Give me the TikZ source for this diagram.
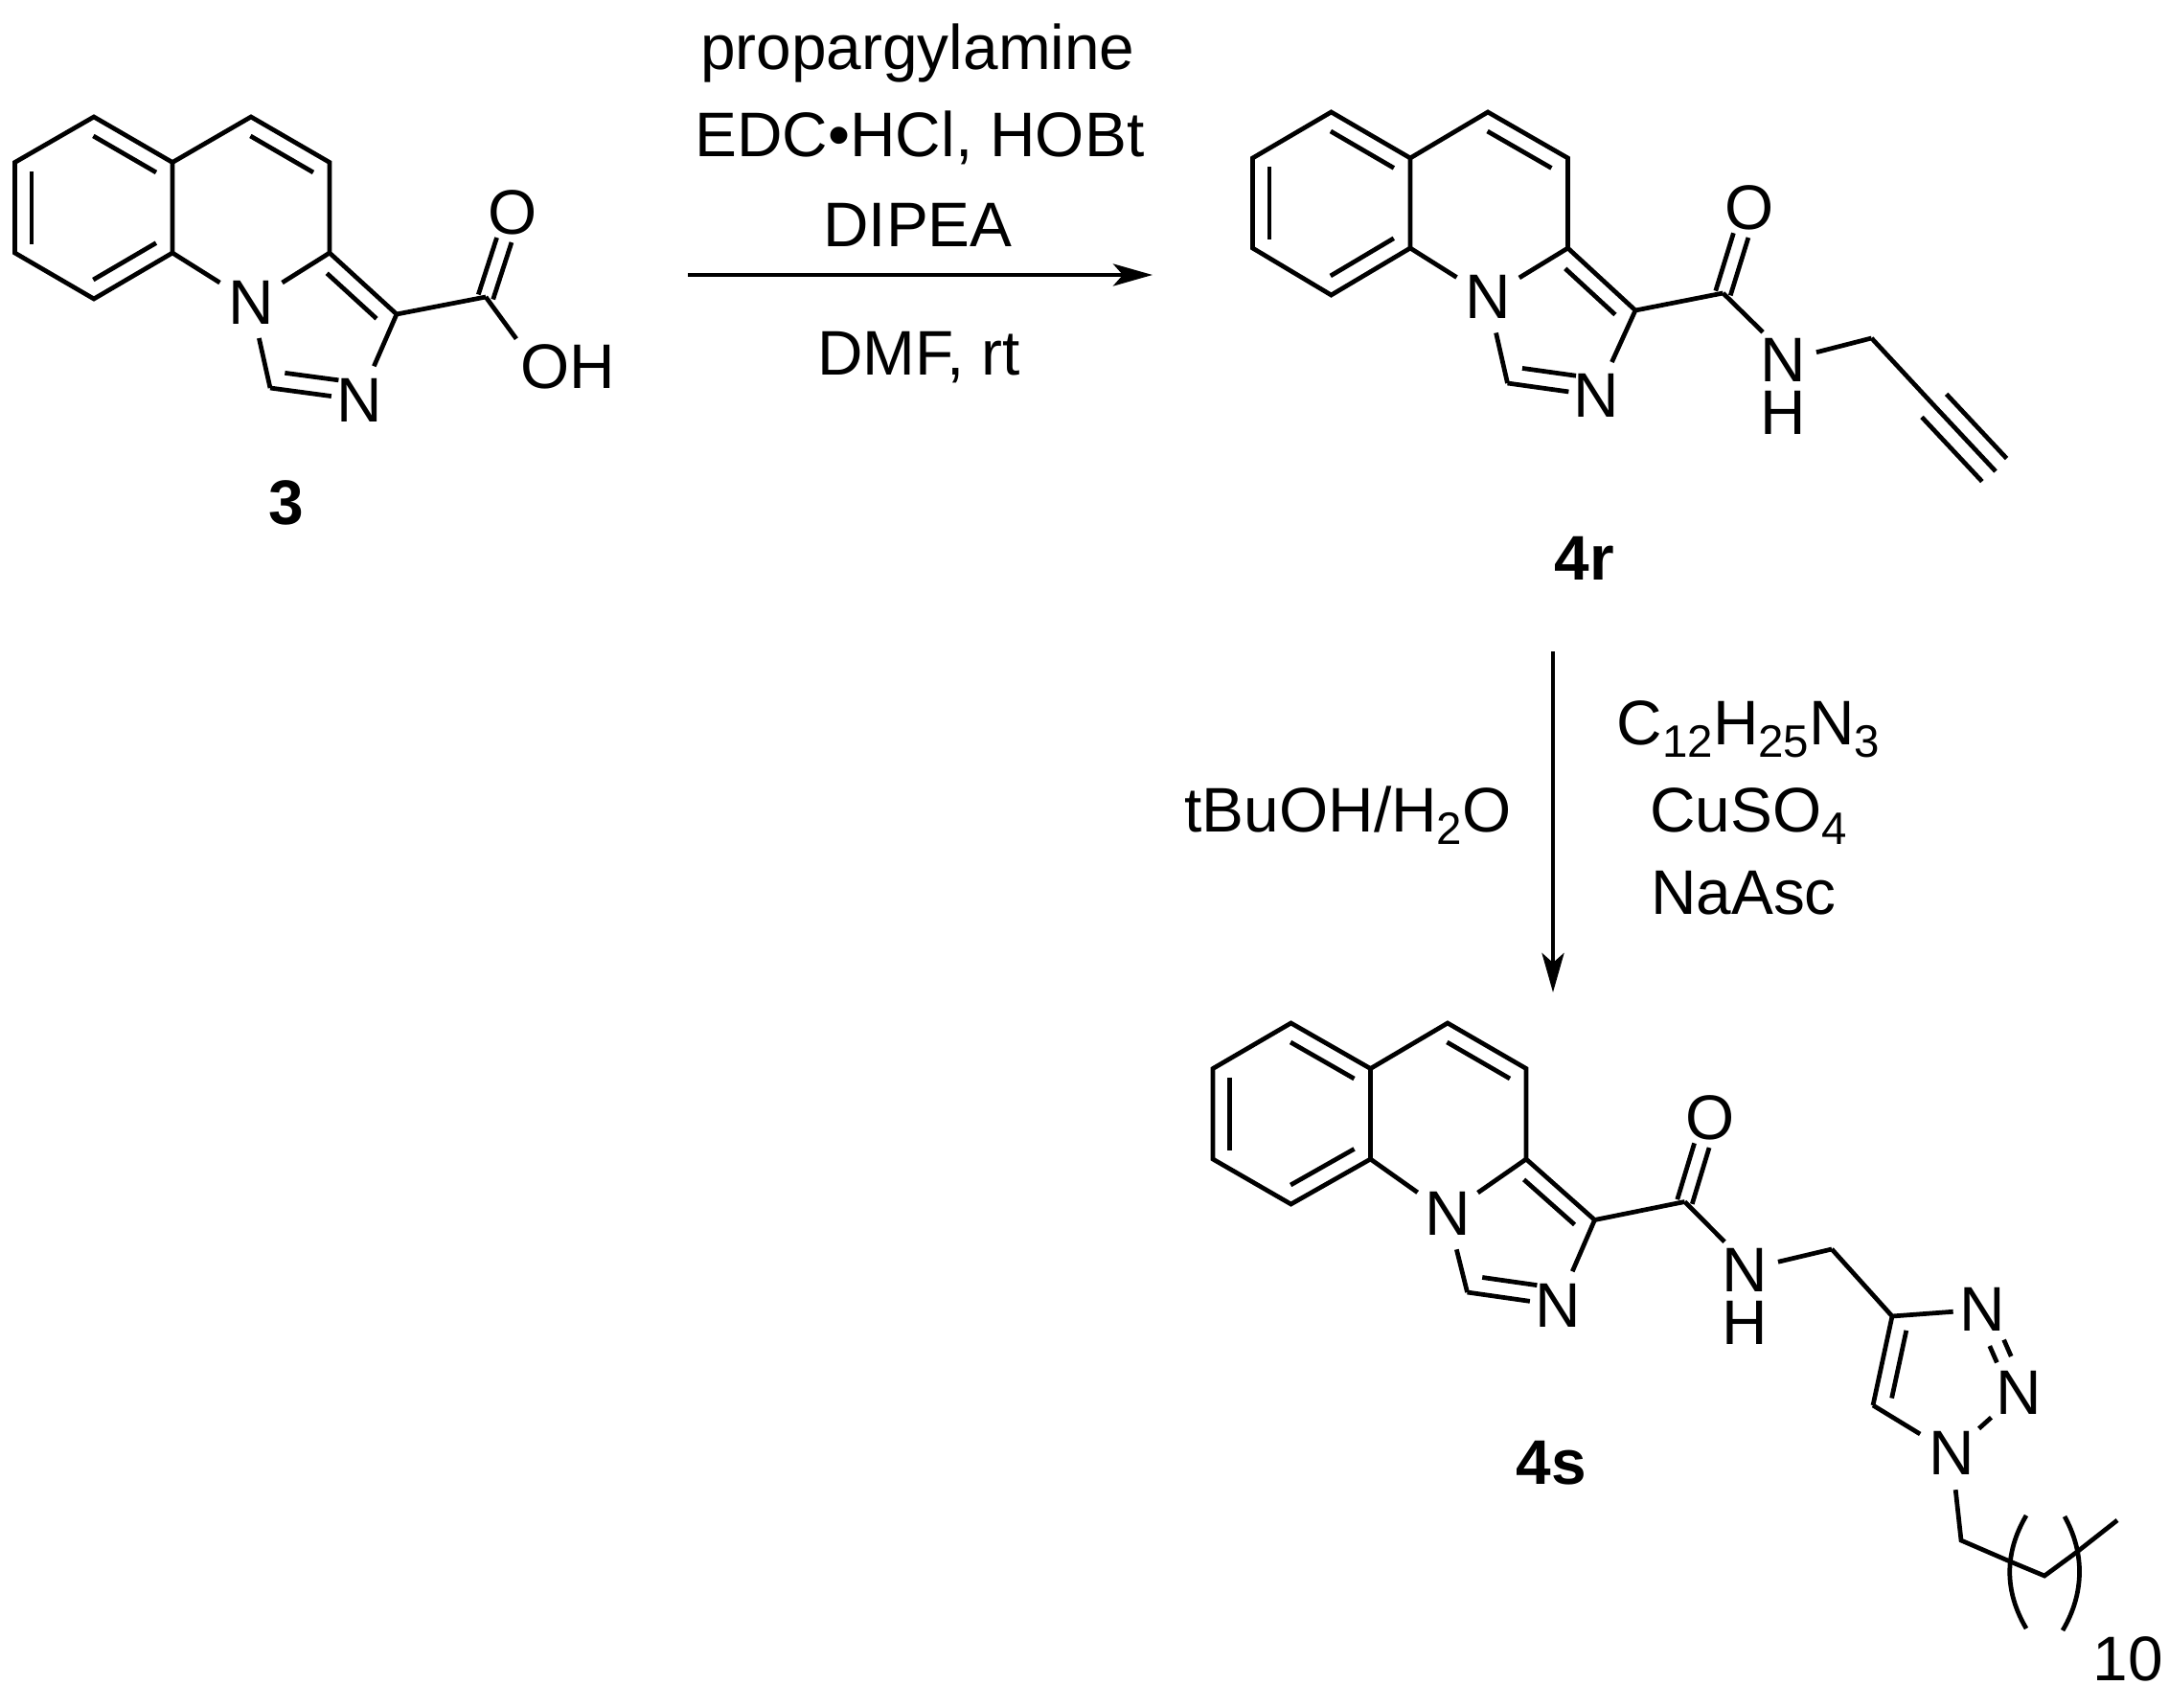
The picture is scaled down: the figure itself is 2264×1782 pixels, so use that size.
\documentclass[tikz,border=0pt]{standalone}
\usepackage{fontspec}
\usepackage{tikz}
\usetikzlibrary{calc,arrows.meta}
\setmainfont{Liberation Sans}
\newcommand{\chemsub}[1]{\raisebox{-.13cm}{\fontsize{13.5}{14}\selectfont #1}}

\begin{document}
\begin{tikzpicture}[x=0.01cm,y=-0.01cm]
  \tikzset{every node/.style={font=\fontsize{18.7}{20}\selectfont,inner sep=0pt}}
  \tikzset{atom/.style={circle,inner sep=1pt}}
  \tikzset{stack/.style={align=center,font=\fontsize{18.7}{15.6}\selectfont}}
  \tikzset{txt/.style={anchor=base}}
  \tikzset{cpd/.style={anchor=base,font=\fontsize{18.7}{20}\selectfont\bfseries}}
  \tikzset{bond/.style={line width=1.35pt,line join=miter}}
  \tikzset{inner/.style 2 args={bond,to path={($(\tikztostart)!#2!(\tikztotarget)!#1!90:(\tikztotarget)$) -- ($(\tikztotarget)!#2!(\tikztostart)!#1!-90:(\tikztostart)$)}}}
  \tikzset{transition/.style={-{Stealth[length=.41cm,width=.23cm,inset=.1cm]},line width=1.35pt}}
  \useasboundingbox (0,0) rectangle (2264,1782);
  % acid 3
  \coordinate (acidA) at (98,122);
  \coordinate (acidB) at (180,169.5);
  \coordinate (acidC) at (180,264);
  \coordinate (acidD) at (98,312);
  \coordinate (acidE) at (15.5,264);
  \coordinate (acidF) at (15.5,169.5);
  \coordinate (acidG) at (262,122);
  \coordinate (acidH) at (344,169.5);
  \coordinate (acidI) at (344,264);
  \coordinate (acidJ) at (282,405);
  \coordinate (acidK) at (414,328);
  \coordinate (acidCO) at (507,310);
  \node[atom] (acidNa) at (262,315.5) {N};
  \node[atom] (acidNb) at (375,417.5) {N};
  \node[atom] (acidO) at (535.5,222) {O};
  \node (acidOH) at (592.5,382.5) {OH};
  \node[cpd] (acidLabel) at (299,547) {3};
  \draw[bond] (acidA)--(acidB)--(acidC)--(acidD)--(acidE)--(acidF)--cycle;
  \draw[bond] (acidB)--(acidG)--(acidH)--(acidI)--(acidK)--(acidCO);
  \draw[bond] (acidC)--(acidNa);
  \draw[bond] (acidI)--(acidNa);
  \draw[bond] (acidNa)--(acidJ);
  \draw[bond,shorten >=-.09cm] (acidJ)--(acidNb);
  \draw[bond] (acidK)--(acidNb);
  \draw[bond,shorten >=.06cm] (acidCO)--(acidOH.north west);
  \draw[inner={5pt}{.1}] (acidF) to (acidE);
  \draw[inner={5pt}{.1}] (acidD) to (acidC);
  \draw[inner={5pt}{.1}] (acidB) to (acidA);
  \draw[inner={5pt}{.1}] (acidH) to (acidG);
  \draw[inner={5pt}{.13}] (acidK) to (acidI);
  \draw[inner={5pt}{.14},shorten >=.11cm] (acidJ) to (acidNb);
  \draw[inner={2.3pt}{0},shorten >=.3cm] (acidCO) to (acidO);
  \draw[inner={-2.3pt}{0},shorten >=.3cm] (acidCO) to (acidO);
  % first step
  \node[txt] (reagentA) at (958,73) {propargylamine};
  \node[txt] (reagentB) at (960,164) {EDC•HCl, HOBt};
  \node[txt] (reagentC) at (958,257) {DIPEA};
  \node[txt] (reagentD) at (959,391) {DMF, rt};
  \coordinate (stepOneFrom) at (718,287);
  \coordinate (stepOneTo) at (1203,287);
  \draw[transition] (stepOneFrom)--(stepOneTo);
  % alkyne 4r
  \coordinate (alkyneA) at (1389.5,117);
  \coordinate (alkyneB) at (1472,165);
  \coordinate (alkyneC) at (1472,259);
  \coordinate (alkyneD) at (1389.5,308);
  \coordinate (alkyneE) at (1307.5,259);
  \coordinate (alkyneF) at (1307.5,165);
  \coordinate (alkyneG) at (1553,117);
  \coordinate (alkyneH) at (1636.5,165);
  \coordinate (alkyneI) at (1636.5,259);
  \coordinate (alkyneJ) at (1573.5,400);
  \coordinate (alkyneK) at (1707,324);
  \coordinate (alkyneCO) at (1798.5,306);
  \coordinate (alkyneCH) at (1953.5,353);
  \coordinate (alkyneS) at (2017.5,422);
  \coordinate (alkyneT) at (2083,492);
  \node[atom] (alkyneNa) at (1553,310) {N};
  \node[atom] (alkyneNb) at (1666.5,413) {N};
  \node[atom] (alkyneO) at (1826,217) {O};
  \node[stack] (alkyneNH) at (1861.5,403.5) {N\\H};
  \node[cpd] (alkyneLabel) at (1654,605) {4r};
  \draw[bond] (alkyneA)--(alkyneB)--(alkyneC)--(alkyneD)--(alkyneE)--(alkyneF)--cycle;
  \draw[bond] (alkyneB)--(alkyneG)--(alkyneH)--(alkyneI)--(alkyneK)--(alkyneCO);
  \draw[bond] (alkyneC)--(alkyneNa);
  \draw[bond] (alkyneI)--(alkyneNa);
  \draw[bond] (alkyneNa)--(alkyneJ);
  \draw[bond,shorten >=-.09cm] (alkyneJ)--(alkyneNb);
  \draw[bond] (alkyneK)--(alkyneNb);
  \draw[bond] (alkyneCO)--([shift={(3,-6)}]alkyneNH.north west);
  \draw[bond] ([shift={(10,15)}]alkyneNH.north east)--(alkyneCH);
  \draw[bond] (alkyneCH)--(alkyneS)--(alkyneT);
  \draw[inner={5pt}{.1}] (alkyneF) to (alkyneE);
  \draw[inner={5pt}{.1}] (alkyneD) to (alkyneC);
  \draw[inner={5pt}{.1}] (alkyneB) to (alkyneA);
  \draw[inner={5pt}{.1}] (alkyneH) to (alkyneG);
  \draw[inner={5pt}{.13}] (alkyneK) to (alkyneI);
  \draw[inner={5pt}{.14},shorten >=.11cm] (alkyneJ) to (alkyneNb);
  \draw[inner={2.3pt}{0},shorten >=.3cm] (alkyneCO) to (alkyneO);
  \draw[inner={-2.3pt}{0},shorten >=.3cm] (alkyneCO) to (alkyneO);
  \draw[inner={5pt}{.02}] (alkyneS) to (alkyneT);
  \draw[inner={-5pt}{.02}] (alkyneS) to (alkyneT);
  % second step
  \node[txt] (solvent) at (1407,868) {tBuOH/H\chemsub{2}O};
  \node[txt] (azide) at (1825,777) {C\chemsub{12}H\chemsub{25}N\chemsub{3}};
  \node[txt] (copper) at (1825,868) {CuSO\chemsub{4}};
  \node[txt] (ascorbate) at (1820,954) {NaAsc};
  \coordinate (stepTwoFrom) at (1621,680);
  \coordinate (stepTwoTo) at (1621,1036);
  \draw[transition] (stepTwoFrom)--(stepTwoTo);
  % triazole 4s
  \coordinate (triazA) at (1347.5,1068);
  \coordinate (triazB) at (1430.5,1115.5);
  \coordinate (triazC) at (1430.5,1210);
  \coordinate (triazD) at (1347.5,1257);
  \coordinate (triazE) at (1266,1210);
  \coordinate (triazF) at (1266,1115.5);
  \coordinate (triazG) at (1511,1068);
  \coordinate (triazH) at (1593,1115.5);
  \coordinate (triazI) at (1593,1210);
  \coordinate (triazJ) at (1531.5,1349);
  \coordinate (triazK) at (1664.5,1273.5);
  \coordinate (triazCO) at (1758.5,1254.5);
  \coordinate (triazCH) at (1912,1304);
  \coordinate (triazP) at (1975,1374);
  \coordinate (triazQ) at (1955,1467);
  \coordinate (chainA) at (2047,1608);
  \coordinate (chainB) at (2098,1630);
  \coordinate (chainC) at (2134,1645);
  \coordinate (chainD) at (2168,1620);
  \coordinate (chainE) at (2210,1587);
  \coordinate (leftTop) at (2115,1582);
  \coordinate (leftEnd) at (2115,1700);
  \coordinate (rightTop) at (2155,1583);
  \coordinate (rightEnd) at (2153,1702);
  \node[atom] (triazNa) at (1511,1267) {N};
  \node[atom] (triazNb) at (1626,1362.5) {N};
  \node[atom] (triazO) at (1785,1167) {O};
  \node[stack] (triazNH) at (1821.5,1353) {N\\H};
  \node[atom] (triazNc) at (2069,1367) {N};
  \node[atom] (triazNd) at (2107,1454) {N};
  \node[atom] (triazNe) at (2037,1517) {N};
  \node[cpd] (triazLabel) at (1619,1549) {4s};
  \node[txt] (repeat) at (2221,1754) {10};
  \draw[bond] (triazA)--(triazB)--(triazC)--(triazD)--(triazE)--(triazF)--cycle;
  \draw[bond] (triazB)--(triazG)--(triazH)--(triazI)--(triazK)--(triazCO);
  \draw[bond] (triazC)--(triazNa);
  \draw[bond] (triazI)--(triazNa);
  \draw[bond] (triazNa)--(triazJ);
  \draw[bond,shorten >=-.09cm] (triazJ)--(triazNb);
  \draw[bond] (triazK)--(triazNb);
  \draw[bond] (triazCO)--([shift={(3,-6)}]triazNH.north west);
  \draw[bond] ([shift={(10,15)}]triazNH.north east)--(triazCH);
  \draw[bond] (triazCH)--(triazP)--(triazQ);
  \draw[bond,shorten >=-.08cm] (triazP)--(triazNc);
  \draw[bond] (triazQ)--(triazNe);
  \draw[bond] (triazNd)--(triazNe);
  \draw[bond] (triazNe)--(chainA)--(chainB)--(chainC)--(chainD)--(chainE);
  \draw[bond] (leftTop) .. controls (2092,1621) and (2092,1661) .. (leftEnd);
  \draw[bond] (rightTop) .. controls (2176,1621) and (2176,1663) .. (rightEnd);
  \draw[inner={5pt}{.1}] (triazF) to (triazE);
  \draw[inner={5pt}{.1}] (triazD) to (triazC);
  \draw[inner={5pt}{.1}] (triazB) to (triazA);
  \draw[inner={5pt}{.1}] (triazH) to (triazG);
  \draw[inner={5pt}{.13}] (triazK) to (triazI);
  \draw[inner={5pt}{.14},shorten >=.11cm] (triazJ) to (triazNb);
  \draw[inner={2.3pt}{0},shorten >=.3cm] (triazCO) to (triazO);
  \draw[inner={-2.3pt}{0},shorten >=.3cm] (triazCO) to (triazO);
  \draw[inner={5pt}{.12}] (triazP) to (triazQ);
  \draw[inner={2.3pt}{0},shorten <=.38cm,shorten >=.38cm] (triazNc) to (triazNd);
  \draw[inner={-2.3pt}{0},shorten <=.38cm,shorten >=.38cm] (triazNc) to (triazNd);
\end{tikzpicture}
\end{document}
